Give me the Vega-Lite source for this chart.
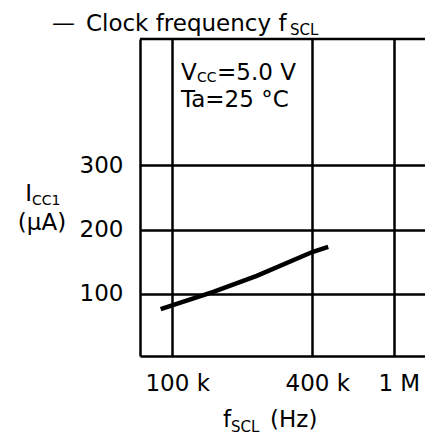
{
  "$schema": "https://vega.github.io/schema/vega-lite/v6.json",
  "width": 285,
  "height": 317,
  "autosize": {"type": "none"},
  "padding": {"left": 140, "top": 39, "right": 0, "bottom": 84},
  "background": "white",
  "config": {
    "view": {"stroke": null},
    "text": {"font": "DejaVu Sans", "fontSize": 23, "color": "black", "align": "left", "baseline": "alphabetic"},
    "axis": {
      "grid": true,
      "gridColor": "black",
      "gridWidth": 2.5,
      "gridOpacity": 1,
      "domain": true,
      "domainColor": "black",
      "domainWidth": 2.5,
      "ticks": false,
      "labelFont": "DejaVu Sans",
      "labelFontSize": 23,
      "labelColor": "black",
      "labelFlush": false,
      "labelOverlap": false,
      "labelBound": false,
      "title": null
    }
  },
  "layer": [
    {
      "data": {"values": [
        {"f": 90000, "icc": 76},
        {"f": 147000, "icc": 103},
        {"f": 225000, "icc": 128},
        {"f": 400000, "icc": 165},
        {"f": 475000, "icc": 173}
      ]},
      "mark": {"type": "line", "color": "black", "strokeWidth": 4.5, "strokeCap": "butt"},
      "encoding": {
        "x": {
          "field": "f",
          "type": "quantitative",
          "scale": {"type": "pow", "exponent": -0.11, "domain": [74750, 1457000], "nice": false, "zero": false},
          "axis": {"values": [100000, 400000, 1000000], "labelExpr": "datum.value >= 1000000 ? '1 M' : (datum.value / 1000) + ' k'", "labelPadding": 16, "labelOffset": 5}
        },
        "y": {
          "field": "icc",
          "type": "quantitative",
          "scale": {"domain": [3, 497], "nice": false, "zero": false},
          "axis": {"values": [100, 200, 300], "labelPadding": 17}
        }
      }
    },
    {"data": {"values": [{}]}, "mark": {"type": "rule", "color": "black", "strokeWidth": 2.5}, "encoding": {"y": {"datum": 497, "type": "quantitative"}}},
    {"data": {"values": [{}]}, "mark": {"type": "text", "text": "—"}, "encoding": {"x": {"datum": 35300, "type": "quantitative"}, "y": {"datum": 509, "type": "quantitative"}}},
    {"data": {"values": [{}]}, "mark": {"type": "text", "text": "Clock frequency f"}, "encoding": {"x": {"datum": 46800, "type": "quantitative"}, "y": {"datum": 509, "type": "quantitative"}}},
    {"data": {"values": [{}]}, "mark": {"type": "text", "text": "SCL", "fontSize": 15}, "encoding": {"x": {"datum": 316400, "type": "quantitative"}, "y": {"datum": 503, "type": "quantitative"}}},
    {"data": {"values": [{}]}, "mark": {"type": "text", "text": "V"}, "encoding": {"x": {"datum": 108400, "type": "quantitative"}, "y": {"datum": 433, "type": "quantitative"}}},
    {"data": {"values": [{}]}, "mark": {"type": "text", "text": "CC", "fontSize": 14}, "encoding": {"x": {"datum": 125900, "type": "quantitative"}, "y": {"datum": 430, "type": "quantitative"}}},
    {"data": {"values": [{}]}, "mark": {"type": "text", "text": "=5.0 V"}, "encoding": {"x": {"datum": 152300, "type": "quantitative"}, "y": {"datum": 433, "type": "quantitative"}}},
    {"data": {"values": [{}]}, "mark": {"type": "text", "text": "Ta=25 °C"}, "encoding": {"x": {"datum": 108400, "type": "quantitative"}, "y": {"datum": 391, "type": "quantitative"}}},
    {"data": {"values": [{}]}, "mark": {"type": "text", "text": "I"}, "encoding": {"x": {"datum": 28400, "type": "quantitative"}, "y": {"datum": 244.5, "type": "quantitative"}}},
    {"data": {"values": [{}]}, "mark": {"type": "text", "text": "CC1", "fontSize": 14}, "encoding": {"x": {"datum": 30000, "type": "quantitative"}, "y": {"datum": 238.3, "type": "quantitative"}}},
    {"data": {"values": [{}]}, "mark": {"type": "text", "text": "(μA)"}, "encoding": {"x": {"datum": 26800, "type": "quantitative"}, "y": {"datum": 199.4, "type": "quantitative"}}},
    {"data": {"values": [{}]}, "mark": {"type": "text", "text": "f"}, "encoding": {"x": {"datum": 161400, "type": "quantitative"}, "y": {"datum": -108, "type": "quantitative"}}},
    {"data": {"values": [{}]}, "mark": {"type": "text", "text": "SCL", "fontSize": 15}, "encoding": {"x": {"datum": 174500, "type": "quantitative"}, "y": {"datum": -115, "type": "quantitative"}}},
    {"data": {"values": [{}]}, "mark": {"type": "text", "text": "(Hz)"}, "encoding": {"x": {"datum": 257500, "type": "quantitative"}, "y": {"datum": -108, "type": "quantitative"}}}
  ]
}
